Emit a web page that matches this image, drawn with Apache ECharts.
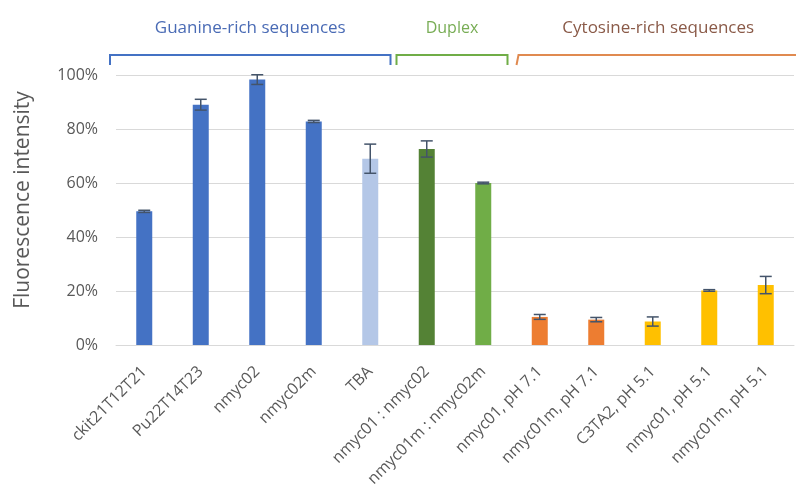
<!DOCTYPE html>
<html>
<head>
<meta charset="utf-8">
<script src="https://cdn.jsdelivr.net/npm/echarts@6/dist/echarts.min.js"></script>
<style>
  html, body { margin: 0; padding: 0; background: #fff; }
  #chart { width: 796px; height: 500px; }
</style>
</head>
<body>
<div id="chart"></div>
<script>
// Samples along the x axis
const categories = [
  'ckit21T12T21', 'Pu22T14T23', 'nmyc02', 'nmyc02m', 'TBA',
  'nmyc01 : nmyc02', 'nmyc01m : nmyc02m',
  'nmyc01, pH 7.1', 'nmyc01m, pH 7.1', 'C3TA2, pH 5.1',
  'nmyc01, pH 5.1', 'nmyc01m, pH 5.1'
];
// Mean fluorescence intensity (%) and its error (±%)
const intensity = [49.5, 89, 98.3, 82.8, 69, 72.6, 60, 10.4, 9.4, 8.7, 20.2, 22.2];
const errors    = [0.4, 2.0, 1.8, 0.4, 5.4, 3.0, 0.3, 0.9, 0.8, 1.7, 0.3, 3.2];
const barColors = [
  '#4472C4', '#4472C4', '#4472C4', '#4472C4', '#B4C7E7',
  '#548235', '#70AD47',
  '#ED7D31', '#ED7D31', '#FFC000', '#FFC000', '#FFC000'
];
const yTicks = { min: 0, max: 100, interval: 20 };
// Sample groups annotated above the plot: [first index, last index]
const groups = [
  { name: 'Guanine-rich sequences', from: 0, to: 4, color: '#4472C4', text: '#4A6BB5', inL: -6, inR: -8 },
  { name: 'Duplex', from: 5, to: 6, color: '#70AD47', text: '#78AD55', inL: -2, inR: -4 },
  { name: 'Cytosine-rich sequences', from: 7, to: 11, color: '#E08A50', text: '#8A5A48', inL: 5, inR: 0 }
];

const FONT = '"Open Sans", "Liberation Sans", sans-serif';
const chart = echarts.init(document.getElementById('chart'));

const option = {
  animation: false,
  textStyle: { fontFamily: FONT },
  grid: { left: 116, right: 2, top: 75, bottom: 155 },
  xAxis: {
    type: 'category',
    data: categories,
    axisLine: { lineStyle: { color: '#D9D9D9', width: 1 } },
    axisTick: { show: false },
    axisLabel: { rotate: 45, color: '#595959', fontSize: 16, margin: 24, fontFamily: FONT, interval: 0 }
  },
  yAxis: {
    type: 'value',
    min: yTicks.min, max: yTicks.max, interval: yTicks.interval,
    name: 'Fluorescence intensity',
    nameLocation: 'middle',
    nameGap: 82,
    nameTextStyle: { color: '#595959', fontSize: 21, fontFamily: FONT, padding: [0, 0, 0, 20] },
    axisLine: { show: false },
    axisTick: { show: false },
    axisLabel: { formatter: '{value}%', color: '#595959', fontSize: 16, margin: 18, fontFamily: FONT },
    splitLine: { lineStyle: { color: '#D9D9D9', width: 1 } }
  },
  series: [
    {
      type: 'bar',
      barWidth: 16,
      data: intensity.map((v, i) => ({ value: v, itemStyle: { color: barColors[i] } }))
    },
    {
      type: 'custom',
      data: intensity.map((v, i) => [i, v - errors[i], v + errors[i]]),
      z: 10,
      renderItem: function (params, api) {
        const lo = api.coord([api.value(0), api.value(1)]);
        const hi = api.coord([api.value(0), api.value(2)]);
        const cap = 6;
        const style = { stroke: '#44546A', lineWidth: 1.5 };
        return {
          type: 'group',
          children: [
            { type: 'line', shape: { x1: hi[0], y1: hi[1], x2: lo[0], y2: lo[1] }, style },
            { type: 'line', shape: { x1: hi[0] - cap, y1: hi[1], x2: hi[0] + cap, y2: hi[1] }, style },
            { type: 'line', shape: { x1: lo[0] - cap, y1: lo[1], x2: lo[0] + cap, y2: lo[1] }, style }
          ]
        };
      }
    }
  ]
};
chart.setOption(option);

// Group brackets and titles above the bars, placed from the category scale
const step = chart.convertToPixel({ xAxisIndex: 0 }, 1) - chart.convertToPixel({ xAxisIndex: 0 }, 0);
const bracketY = 55, tickLen = 10;
const graphics = [];
groups.forEach((g, k) => {
  const last = k === groups.length - 1;
  const x1 = chart.convertToPixel({ xAxisIndex: 0 }, g.from) - step / 2 + g.inL;
  const x2 = last ? 800 : chart.convertToPixel({ xAxisIndex: 0 }, g.to) + step / 2 + g.inR;
  graphics.push({
    type: 'polyline',
    shape: { points: last
      ? [[x1, bracketY + tickLen], [x1 + 2, bracketY], [x2, bracketY]]
      : [[x1, bracketY + tickLen], [x1, bracketY], [x2, bracketY], [x2, bracketY + tickLen]] },
    style: { stroke: g.color, lineWidth: 2, fill: null }
  });
  const cx = last ? (x1 + 796) / 2 + 2 : (x1 + x2) / 2;
  graphics.push({
    type: 'text',
    x: cx, y: 28,
    style: { text: g.name, fill: g.text, font: (k === 1 ? '16px ' : '17px ') + FONT, textAlign: 'center', textVerticalAlign: 'middle' }
  });
});
chart.setOption({ graphic: graphics });
</script>
</body>
</html>
